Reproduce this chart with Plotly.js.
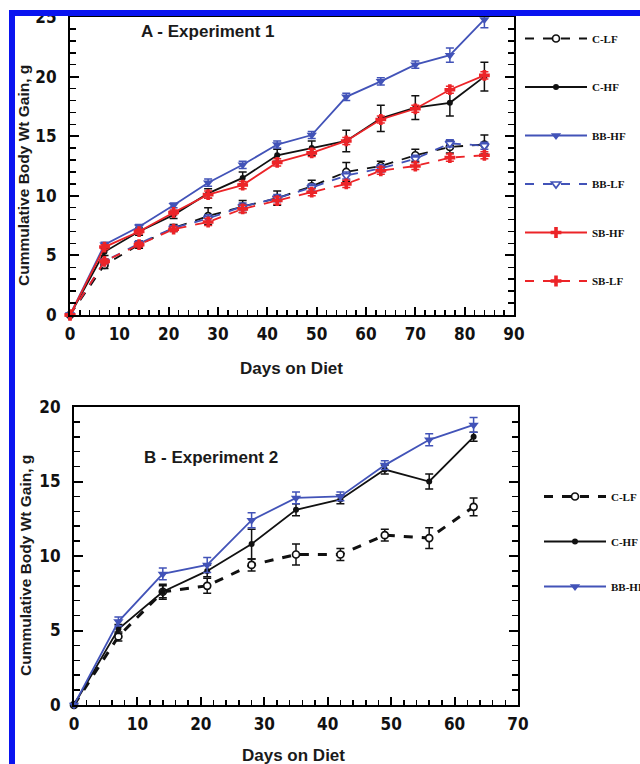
<!DOCTYPE html>
<html>
<head>
<meta charset="utf-8">
<script src="https://cdn.plot.ly/plotly-3.0.1.min.js"></script>
<style>
  html, body { margin: 0; padding: 0; background: #fff; }
  #wrap { position: relative; width: 640px; height: 764px; overflow: hidden; }
  #chart { width: 640px; height: 764px; }
  #frame { position: absolute; left: 9px; top: 10px; width: 640px; height: 760px;
           border-left: 6px solid #0a14f0; border-top: 6px solid #0a14f0; pointer-events: none; }
</style>
</head>
<body>
<div id="wrap"><div id="chart"></div><div id="frame"></div></div>
<script>
// ---------- Experiment 1 ----------
const days1 = [0, 7, 14, 21, 28, 35, 42, 49, 56, 63, 70, 77, 84];
const cLF1  = [0, 4.2, 5.9, 7.3, 8.3, 9.1, 9.8, 10.8, 12.0, 12.5, 13.4, 14.1, 14.3];
const cHF1  = [0, 5.3, 7.0, 8.4, 10.2, 11.5, 13.4, 14.0, 14.6, 16.5, 17.4, 17.8, 20.0];
const bbHF1 = [0, 5.9, 7.4, 9.2, 11.1, 12.6, 14.3, 15.1, 18.3, 19.6, 21.0, 21.8, 24.8];
const bbLF1 = [0, 4.5, 6.0, 7.3, 8.1, 9.1, 9.8, 10.7, 11.7, 12.3, 13.1, 14.4, 14.2];
const sbHF1 = [0, 5.7, 7.0, 8.6, 10.1, 10.9, 12.8, 13.6, 14.6, 16.4, 17.3, 18.9, 20.1];
const sbLF1 = [0, 4.5, 5.9, 7.2, 7.8, 8.9, 9.6, 10.3, 11.0, 12.1, 12.5, 13.2, 13.4];
const cLFerr1  = [0, 0.3, 0.3, 0.3, 0.7, 0.5, 0.6, 0.5, 0.8, 0.4, 0.5, 0.5, 0.8];
const cHFerr1  = [0, 0.3, 0.3, 0.3, 0.4, 0.5, 0.5, 0.6, 0.9, 1.1, 1.0, 1.1, 1.2];
const bbHFerr1 = [0, 0.2, 0.2, 0.2, 0.3, 0.3, 0.3, 0.3, 0.3, 0.3, 0.3, 0.6, 0.7];
const bbLFerr1 = [0, 0.2, 0.2, 0.2, 0.3, 0.3, 0.3, 0.3, 0.3, 0.3, 0.3, 0.3, 0.3];
const sbHFerr1 = [0, 0.2, 0.2, 0.2, 0.3, 0.3, 0.3, 0.3, 0.3, 0.3, 0.3, 0.3, 0.3];
const sbLFerr1 = [0, 0.2, 0.2, 0.2, 0.3, 0.3, 0.3, 0.3, 0.3, 0.3, 0.3, 0.3, 0.3];

// ---------- Experiment 2 ----------
const days2 = [0, 7, 14, 21, 28, 35, 42, 49, 56, 63];
const cLF2  = [0, 4.6, 7.6, 8.0, 9.4, 10.1, 10.1, 11.4, 11.2, 13.3];
const cHF2  = [0, 5.1, 7.6, 9.0, 10.8, 13.1, 13.8, 15.8, 15.0, 18.0];
const bbHF2 = [0, 5.6, 8.8, 9.4, 12.4, 13.9, 14.0, 16.1, 17.8, 18.8];
const cLFerr2  = [0, 0.3, 0.4, 0.5, 0.4, 0.7, 0.4, 0.4, 0.7, 0.6];
const cHFerr2  = [0, 0.3, 0.5, 0.4, 1.0, 0.4, 0.3, 0.3, 0.5, 0.3];
const bbHFerr2 = [0, 0.3, 0.4, 0.5, 0.5, 0.4, 0.3, 0.3, 0.4, 0.5];

const BLUE = '#4253b8';
const RED = '#ec2428';
const BLACK = '#111111';

function err(arr, color) {
  return { type: 'data', array: arr, visible: true, color: color, thickness: 1.5, width: 4 };
}
// hollow = white-filled marker with coloured outline
function tr(name, x, y, e, color, dash, symbol, hollow, size, xa, ya, leg, lw) {
  return {
    type: 'scatter', mode: 'lines+markers', name: name, x: x, y: y,
    xaxis: xa, yaxis: ya, legend: leg, legendgroup: leg + name,
    line: { color: color, width: lw || 1.8, dash: dash },
    marker: { symbol: symbol, size: size, color: hollow ? '#ffffff' : color,
              line: { color: color, width: hollow ? 1.7 : 0 } },
    error_y: err(e, color), cliponaxis: false
  };
}

const data = [
  tr('C-LF',  days1, cLF1,  cLFerr1,  BLACK, 'dash',  'circle',        true,  7, 'x',  'y',  'legend'),
  tr('C-HF',  days1, cHF1,  cHFerr1,  BLACK, 'solid', 'circle',        false, 6, 'x',  'y',  'legend'),
  tr('BB-HF', days1, bbHF1, bbHFerr1, BLUE,  'solid', 'triangle-down', false, 9, 'x',  'y',  'legend'),
  tr('BB-LF', days1, bbLF1, bbLFerr1, BLUE,  'dash',  'triangle-down', true,  8, 'x',  'y',  'legend'),
  tr('SB-HF', days1, sbHF1, sbHFerr1, RED,   'solid', 'cross',         false, 9, 'x',  'y',  'legend'),
  tr('SB-LF', days1, sbLF1, sbLFerr1, RED,   'dash',  'cross',         false, 9, 'x',  'y',  'legend'),
  tr('C-LF',  days2, cLF2,  cLFerr2,  BLACK, 'dash',  'circle',        true,  7, 'x2', 'y2', 'legend2', 3),
  tr('C-HF',  days2, cHF2,  cHFerr2,  BLACK, 'solid', 'circle',        false, 6, 'x2', 'y2', 'legend2'),
  tr('BB-HF', days2, bbHF2, bbHFerr2, BLUE,  'solid', 'triangle-down', false, 9, 'x2', 'y2', 'legend2')
];

const W = 640, H = 764;
const px = v => v / W;
const py = v => 1 - v / H;
const TICKFONT = { family: 'Liberation Sans Narrow, DejaVu Sans Condensed, Liberation Sans, sans-serif',
                   size: 17, weight: 'bold', color: '#111' };

function xax(range, domain, anchor) {
  return {
    domain: domain, range: range, anchor: anchor, dtick: 10, tick0: 0,
    ticks: 'inside', ticklen: 8, tickwidth: 2, tickcolor: '#000',
    minor: { dtick: 2, ticks: 'inside', ticklen: 5, tickwidth: 1.5, tickcolor: '#000' },
    showline: true, linewidth: 2, linecolor: '#000', mirror: true,
    showgrid: false, zeroline: false, tickfont: TICKFONT, ticklabelstandoff: 3
  };
}
function yax(range, domain, anchor) {
  return {
    domain: domain, range: range, anchor: anchor, dtick: 5, tick0: 0,
    ticks: 'inside', ticklen: 9, tickwidth: 2, tickcolor: '#000',
    minor: { dtick: 1, ticks: 'inside', ticklen: 6, tickwidth: 1.5, tickcolor: '#000' },
    showline: true, linewidth: 2, linecolor: '#000', mirror: 'ticks',
    showgrid: false, zeroline: false, tickfont: TICKFONT, ticklabelstandoff: 8
  };
}

const LEGFONT = { family: 'Liberation Serif, Times New Roman, serif', size: 11, weight: 'bold', color: '#111' };
const ANNFONT = { family: 'Liberation Sans, Arial, sans-serif', size: 17, weight: 'bold', color: '#1a1a1a' };
const YTFONT = { family: 'Liberation Sans, Arial, sans-serif', size: 15.5, weight: 'bold', color: '#1a1a1a' };

function ann(text, x, y, angle, font) {
  return { text: text, xref: 'paper', yref: 'paper', x: px(x), y: py(y),
           xanchor: 'center', yanchor: 'middle', showarrow: false,
           textangle: angle || 0, font: font || ANNFONT };
}

const layout = {
  width: W, height: H,
  margin: { l: 0, r: 0, t: 0, b: 0, autoexpand: false },
  paper_bgcolor: '#ffffff', plot_bgcolor: '#ffffff',
  showlegend: true,
  xaxis: xax([0, 90], [px(70), px(514)], 'y'),
  yaxis: yax([0, 25], [py(315), py(17)], 'x'),
  xaxis2: xax([0, 70], [px(74), px(518)], 'y2'),
  yaxis2: yax([0, 20], [py(705), py(407)], 'x2'),
  legend: {
    x: px(520), y: py(24), xanchor: 'left', yanchor: 'top',
    font: LEGFONT, bgcolor: 'rgba(0,0,0,0)', borderwidth: 0,
    tracegroupgap: 29.5, itemwidth: 62, traceorder: 'grouped'
  },
  legend2: {
    x: px(539), y: py(482), xanchor: 'left', yanchor: 'top',
    font: LEGFONT, bgcolor: 'rgba(0,0,0,0)', borderwidth: 0,
    tracegroupgap: 26, itemwidth: 62, traceorder: 'grouped'
  },
  annotations: [
    ann('A - Experiment 1', 208, 31),
    ann('B - Experiment 2', 211, 457),
    ann('Days on Diet', 291, 368),
    ann('Days on Diet', 293, 755),
    ann('Cummulative Body Wt Gain, g', 23, 176, -90, YTFONT),
    ann('Cummulative Body Wt Gain, g', 25, 566, -90, YTFONT)
  ]
};

Plotly.newPlot('chart', data, layout, { staticPlot: true, displayModeBar: false });
</script>
</body>
</html>
